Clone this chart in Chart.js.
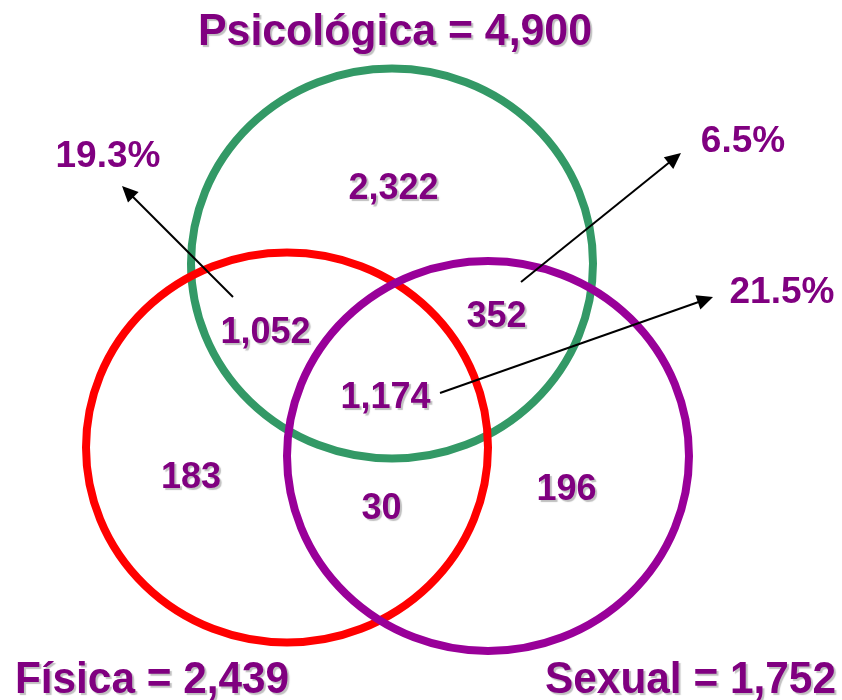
<!DOCTYPE html>
<html>
<head>
<meta charset="utf-8">
<script src="https://cdn.jsdelivr.net/npm/chart.js@4/dist/chart.umd.min.js"></script>
<style>
  html, body { margin: 0; padding: 0; background: #fff; }
  #wrap { width: 842px; height: 700px; position: relative; }
</style>
</head>
<body>
<div id="wrap"><canvas id="venn"></canvas></div>
<script>
"use strict";

// data
const sets = ["Psicológica", "Física", "Sexual"];
const setTotals = [4900, 2439, 1752];
const regions = ["P", "P+F", "P+S", "P+F+S", "F", "F+S", "S"];
const regionCounts = [2322, 1052, 352, 1174, 183, 30, 196];
const shareRegions = ["P+F", "P+S", "P+F+S"];
const sharePct = [19.3, 6.5, 21.5];

// layout (diagram units, axes run 0..842 / 0..700)
const circleCenter = [{ x: 392, y: 263.5 }, { x: 287, y: 447.5 }, { x: 488, y: 456 }];
const circleRadius = { x: 201, y: 195 };
const setLabelPos = [{ x: 395, y: 45 }, { x: 152, y: 693 }, { x: 690.5, y: 693 }];
const setLabelWidth = [394, 274, 291];
const regionLabelPos = [
  { x: 393.5, y: 199 }, { x: 265.5, y: 343 }, { x: 496.5, y: 327 }, { x: 385.5, y: 408 },
  { x: 191, y: 488 }, { x: 381.5, y: 519 }, { x: 566.5, y: 500 }
];
const shareLabelPos = [{ x: 108, y: 167 }, { x: 743, y: 152 }, { x: 782, y: 303 }];
const arrowFrom = [{ x: 233, y: 297 }, { x: 521, y: 282 }, { x: 440, y: 393 }];
const arrowTo = [{ x: 122, y: 186 }, { x: 681, y: 153 }, { x: 713, y: 297 }];

const circleColors = ["#339966", "#ff0000", "#990099"];
const textColor = "#800080";
const FONT = '"Liberation Sans", Arial, sans-serif';

function fmt(n) {
  return n.toLocaleString("en-US");
}

// shorten the arrow shaft so the head sits on the tip
function shaftEnd(a, b, back) {
  const dx = b.x - a.x, dy = b.y - a.y;
  const len = Math.sqrt(dx * dx + dy * dy);
  return { x: b.x - dx / len * back, y: b.y - dy / len * back };
}

const vennPlugin = {
  id: "venn",
  beforeDatasetsDraw(chart) {
    const ctx = chart.ctx;
    const xs = chart.scales.x, ys = chart.scales.y;
    ctx.save();
    ctx.lineWidth = 8;
    for (let i = 0; i < sets.length; i++) {
      const c = circleCenter[i];
      const px = xs.getPixelForValue(c.x);
      const py = ys.getPixelForValue(c.y);
      const rx = Math.abs(xs.getPixelForValue(c.x + circleRadius.x) - px);
      const ry = Math.abs(ys.getPixelForValue(c.y + circleRadius.y) - py);
      ctx.strokeStyle = circleColors[i];
      ctx.beginPath();
      ctx.ellipse(px, py, rx, ry, 0, 0, Math.PI * 2);
      ctx.stroke();
    }
    ctx.restore();
  },
  afterDatasetsDraw(chart) {
    const ctx = chart.ctx;
    const xs = chart.scales.x, ys = chart.scales.y;
    const P = (p) => ({ x: xs.getPixelForValue(p.x), y: ys.getPixelForValue(p.y) });

    // arrow heads
    ctx.save();
    ctx.fillStyle = "#000";
    for (let i = 0; i < shareRegions.length; i++) {
      const a = P(arrowFrom[i]), b = P(arrowTo[i]);
      const ang = Math.atan2(b.y - a.y, b.x - a.x);
      const len = 16, half = 7.5;
      ctx.beginPath();
      ctx.moveTo(b.x, b.y);
      ctx.lineTo(b.x - len * Math.cos(ang) + half * Math.sin(ang), b.y - len * Math.sin(ang) - half * Math.cos(ang));
      ctx.lineTo(b.x - len * Math.cos(ang) - half * Math.sin(ang), b.y - len * Math.sin(ang) + half * Math.cos(ang));
      ctx.closePath();
      ctx.fill();
    }
    ctx.restore();

    ctx.save();
    ctx.textAlign = "center";
    ctx.textBaseline = "alphabetic";
    ctx.fillStyle = textColor;

    // shadowed labels
    ctx.shadowColor = "rgba(140,140,140,0.55)";
    ctx.shadowOffsetX = 2;
    ctx.shadowOffsetY = 2;
    ctx.shadowBlur = 1;

    ctx.font = "bold 45px " + FONT;
    for (let i = 0; i < sets.length; i++) {
      const p = P(setLabelPos[i]);
      ctx.fillText(sets[i] + " = " + fmt(setTotals[i]), p.x, p.y, setLabelWidth[i]);
    }

    ctx.font = "bold 36px " + FONT;
    for (let i = 0; i < regions.length; i++) {
      const p = P(regionLabelPos[i]);
      ctx.fillText(fmt(regionCounts[i]), p.x, p.y);
    }

    // percentages, no shadow
    ctx.shadowColor = "rgba(0,0,0,0)";
    ctx.font = "bold 37px " + FONT;
    for (let i = 0; i < shareRegions.length; i++) {
      const p = P(shareLabelPos[i]);
      ctx.fillText(sharePct[i].toFixed(1) + "%", p.x, p.y);
    }
    ctx.restore();
  }
};

const arrowSets = shareRegions.map(function (name, i) {
  return {
    label: name,
    data: [arrowFrom[i], shaftEnd(arrowFrom[i], arrowTo[i], 10)],
    showLine: true,
    borderColor: "#000",
    borderWidth: 2,
    pointRadius: 0,
    fill: false
  };
});

new Chart(document.getElementById("venn"), {
  type: "scatter",
  data: { datasets: arrowSets },
  options: {
    responsive: true,
    maintainAspectRatio: false,
    animation: false,
    events: [],
    layout: { padding: 0 },
    scales: {
      x: { type: "linear", min: 0, max: 842, display: false },
      y: { type: "linear", min: 0, max: 700, reverse: true, display: false }
    },
    plugins: {
      legend: { display: false },
      tooltip: { enabled: false }
    }
  },
  plugins: [vennPlugin]
});
</script>
</body>
</html>
